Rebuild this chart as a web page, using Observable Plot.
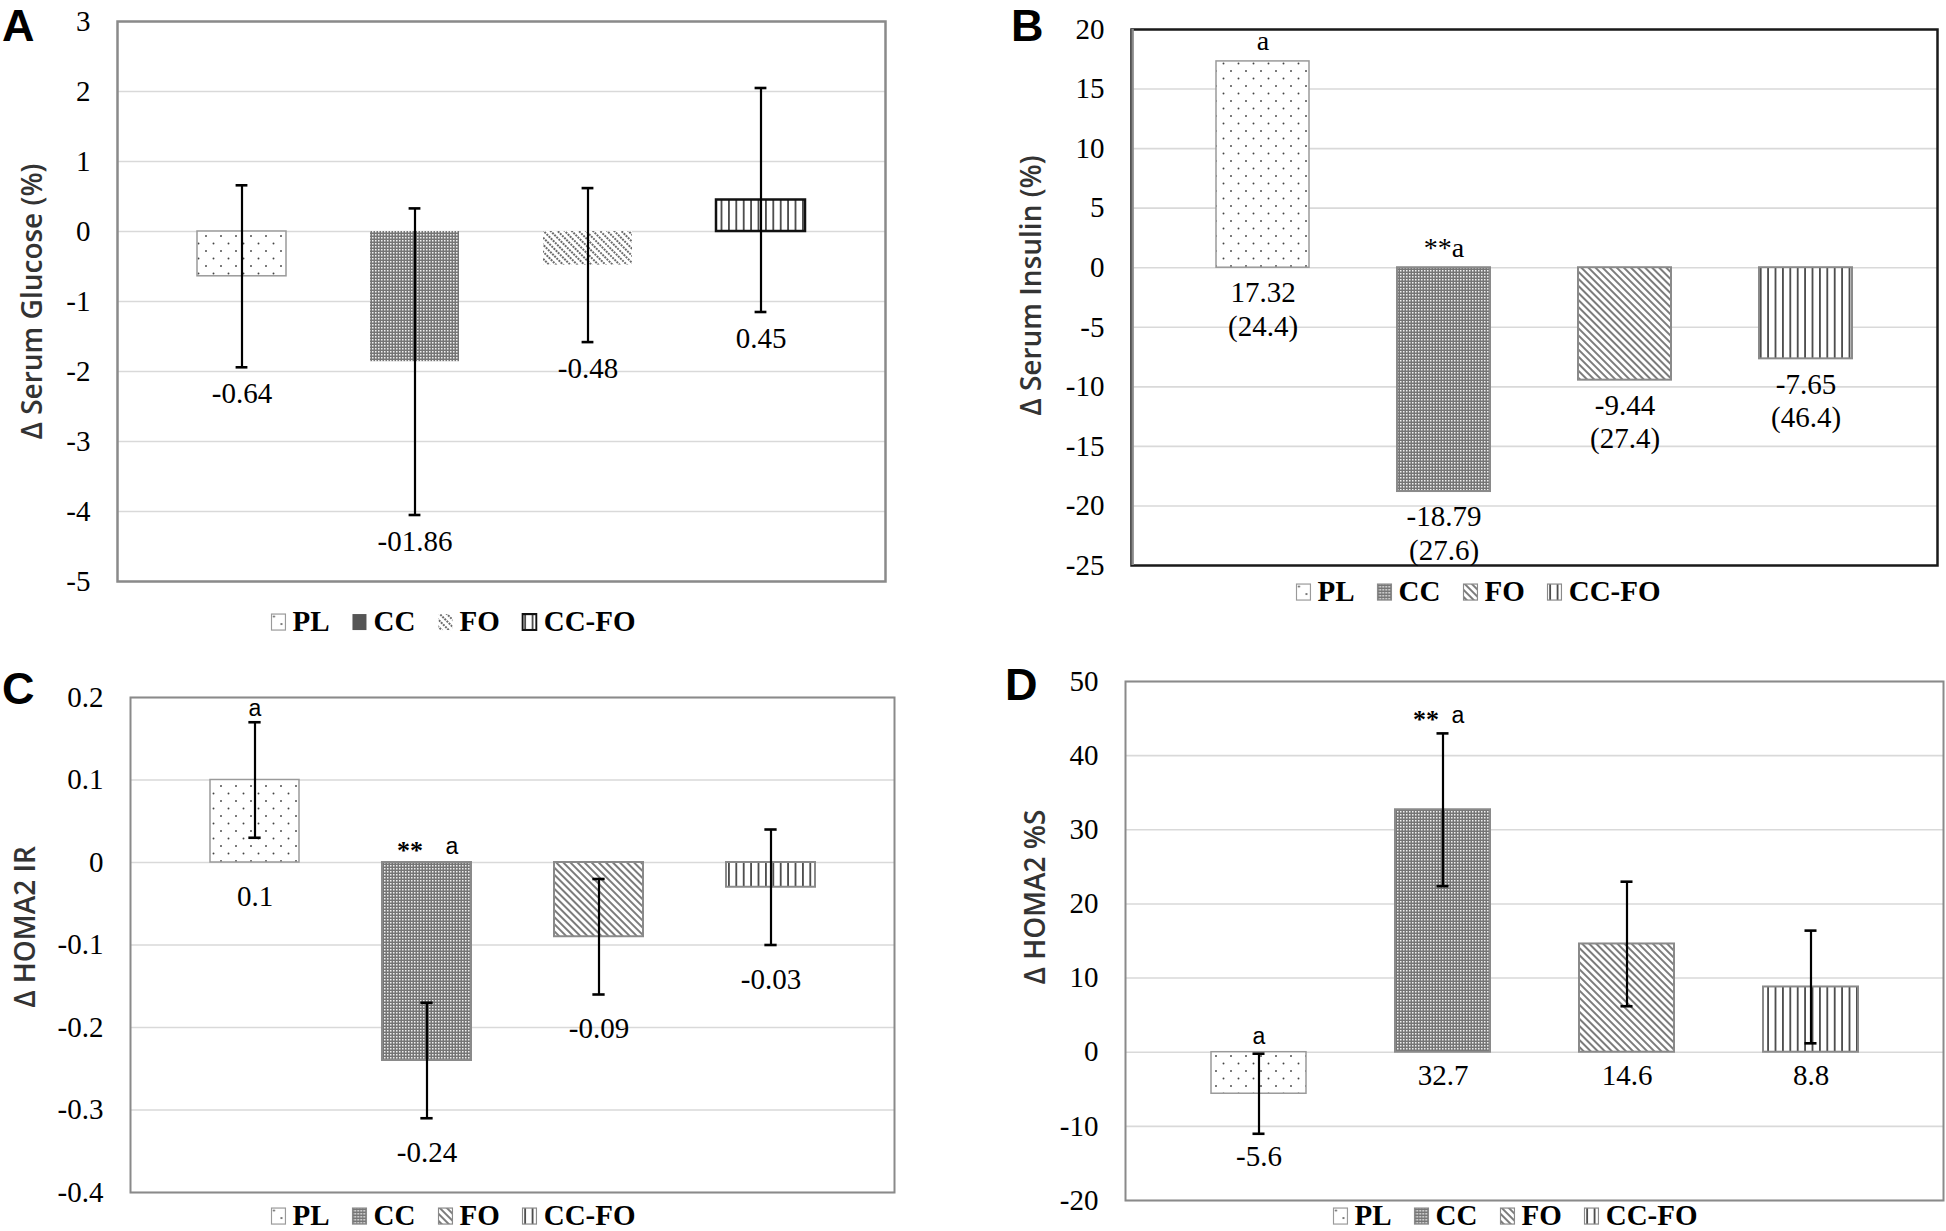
<!DOCTYPE html>
<html>
<head>
<meta charset="utf-8">
<script src="https://cdn.jsdelivr.net/npm/d3@7"></script>
<script src="https://cdn.jsdelivr.net/npm/@observablehq/plot@0.6"></script>
<style>
  body { margin: 0; background: #fff; }
  #root { position: relative; width: 1946px; height: 1231px; overflow: hidden; background: #fff; }
  .panel { position: absolute; }
  .letter { position: absolute; font-family: "Liberation Sans", Arial, sans-serif; font-weight: bold; font-size: 45px; line-height: 1; color: #000; }
  .legend { position: absolute; display: flex; align-items: center; transform: translate(-50%, -50%); white-space: nowrap;
            font-family: "Liberation Serif", "Times New Roman", serif; font-weight: bold; font-size: 29px; line-height: 1.1; color: #000; }
  .legend .item { display: flex; align-items: center; margin-right: 22px; }
  .legend .item:last-child { margin-right: 0; }
  .legend svg { margin-right: 6px; }
</style>
</head>
<body>
<svg width="0" height="0" style="position:absolute">
  <defs>
    <pattern id="pPL" patternUnits="userSpaceOnUse" width="15" height="15">
      <rect width="15" height="15" fill="#fff"/>
      <circle cx="3.5" cy="3.5" r="0.95" fill="#444"/>
      <circle cx="11" cy="11" r="0.95" fill="#444"/>
    </pattern>
    <pattern id="pCC" patternUnits="userSpaceOnUse" width="3" height="3">
      <rect width="3" height="3" fill="#757575"/>
      <rect width="1.5" height="1.5" fill="#f0f0f0"/>
    </pattern>
    <pattern id="pFO" patternUnits="userSpaceOnUse" width="5" height="5" patternTransform="rotate(-45)">
      <rect width="5" height="5" fill="#fff"/>
      <line x1="1" y1="0" x2="1" y2="5" stroke="#444" stroke-width="1.4"/>
    </pattern>
    <pattern id="pFOa" patternUnits="userSpaceOnUse" width="5" height="6" patternTransform="rotate(-45)">
      <rect width="5" height="6" fill="#fff"/>
      <line x1="1" y1="0" x2="1" y2="6" stroke="#3a3a3a" stroke-width="1.5" stroke-dasharray="2 1"/>
    </pattern>
    <pattern id="pCF" patternUnits="userSpaceOnUse" width="7.4" height="10">
      <rect width="7.4" height="10" fill="#fff"/>
      <line x1="3.7" y1="0" x2="3.7" y2="10" stroke="#333" stroke-width="1.6"/>
    </pattern>
  </defs>
</svg>
<div id="root"></div>
<script>
// ---------------- data ----------------
const groups = ["PL", "CC", "FO", "CC-FO"];

const glucose = [-0.64, -1.86, -0.48, 0.45];
const glucoseErr = [1.30, 2.19, 1.10, 1.60];
const glucoseText = ["-0.64", "-01.86", "-0.48", "0.45"];
const glucoseTicks = [-5, -4, -3, -2, -1, 0, 1, 2, 3];

const insulin = [17.32, -18.79, -9.44, -7.65];
const insulinText = ["17.32", "-18.79", "-9.44", "-7.65"];
const insulinSD = ["(24.4)", "(27.6)", "(27.4)", "(46.4)"];
const insulinTicks = [-25, -20, -15, -10, -5, 0, 5, 10, 15, 20];

const homaIR = [0.1, -0.24, -0.09, -0.03];
const homaIRErr = [0.07, 0.07, 0.07, 0.07];
const homaIRText = ["0.1", "-0.24", "-0.09", "-0.03"];
const homaIRTicks = [-0.4, -0.3, -0.2, -0.1, 0, 0.1, 0.2];

const homaS = [-5.6, 32.7, 14.6, 8.8];
const homaSErr = [5.4, 10.3, 8.4, 7.6];
const homaSText = ["-5.6", "32.7", "14.6", "8.8"];
const homaSTicks = [-20, -10, 0, 10, 20, 30, 40, 50];

const starMarks = ["", "**", "", ""];
const letterMarks = ["a", "a", "", ""];

// ---------------- styles ----------------
const SERIF = '"Liberation Serif", "Times New Roman", serif';
const SANS = '"Liberation Sans", Arial, sans-serif';
const stylesA = {
  "PL": ["url(#pPL)", "#9a9a9a", 1.5],
  "CC": ["url(#pCC)", "none", 0],
  "FO": ["url(#pFOa)", "none", 0],
  "CC-FO": ["url(#pCF)", "#111", 2.5]
};
const stylesO = {
  "PL": ["url(#pPL)", "#9a9a9a", 1.5],
  "CC": ["url(#pCC)", "#8a8a8a", 2],
  "FO": ["url(#pFO)", "#8a8a8a", 2],
  "CC-FO": ["url(#pCF)", "#8a8a8a", 2]
};
const legendA = {
  "PL": ["url(#pPL)", "#9a9a9a", 1.2],
  "CC": ["#555", "none", 0],
  "FO": ["url(#pFOa)", "none", 0],
  "CC-FO": ["url(#pCF)", "#111", 2.2]
};
const legendO = {
  "PL": ["url(#pPL)", "#9a9a9a", 1.2],
  "CC": ["url(#pCC)", "#8a8a8a", 1.2],
  "FO": ["url(#pFO)", "#8a8a8a", 1.2],
  "CC-FO": ["url(#pCF)", "#8a8a8a", 1.2]
};

const root = document.getElementById("root");

function makePanel(o) {
  const rows = groups.map((g, i) => ({
    g,
    v: o.values[i],
    e: o.errors ? o.errors[i] : 0,
    t: o.texts[i],
    star: o.stars ? o.stars[i] : "",
    letter: o.letters ? o.letters[i] : ""
  }));
  const fw = o.width - o.ml - o.mr;
  const pI = 0.485, pO = 0.46;
  const step = fw / (groups.length - pI + 2 * pO);
  const bw = step * (1 - pI);
  const cap = (bw - 12) / 2;
  const low = d => Math.min(0, d.v, d.v - d.e);
  const high = d => Math.max(0, d.v, d.v + d.e);

  const marks = [
    Plot.gridY(o.ticks, {stroke: "#d9d9d9", strokeOpacity: 1, strokeWidth: 1.6}),
    ...rows.map(r => Plot.barY([r], {
      x: "g", y: "v",
      fill: o.styles[r.g][0], stroke: o.styles[r.g][1], strokeWidth: o.styles[r.g][2]
    }))
  ];
  if (o.errors) {
    marks.push(Plot.ruleX(rows, {x: "g", y1: d => d.v - d.e, y2: d => d.v + d.e, stroke: "#000", strokeWidth: 2.2}));
    marks.push(Plot.tickY(rows, {x: "g", y: d => d.v - d.e, insetLeft: cap, insetRight: cap, stroke: "#000", strokeWidth: 2.6}));
    marks.push(Plot.tickY(rows, {x: "g", y: d => d.v + d.e, insetLeft: cap, insetRight: cap, stroke: "#000", strokeWidth: 2.6}));
  }
  marks.push(Plot.frame({stroke: o.frameColor, strokeWidth: o.frameWidth}));
  if (o.leftEdge) {
    // lighter left edge of the frame (frame left = first band centre minus outer padding and half band)
    marks.push(Plot.ruleX([groups[0]], {x: d => d, dx: -(pO * step + bw / 2), stroke: o.leftEdge, strokeWidth: o.frameWidth}));
  }
  marks.push(Plot.axisY(o.ticks, {
    tickSize: 0, tickPadding: 27, tickFormat: d => String(d), label: null,
    fontSize: 29, fontFamily: SERIF, fill: "#000"
  }));
  marks.push(Plot.text(rows, {
    x: "g", y: low, text: "t", dy: o.labelDy, lineAnchor: o.labelAnchor,
    fontSize: 29, fontFamily: SERIF, fill: "#000", lineHeight: 1.15
  }));
  if (o.annotations === "joined") {
    marks.push(Plot.text(rows, {
      x: "g", y: high, text: d => d.star + d.letter, dy: o.annDy,
      fontSize: 28, fontFamily: SERIF, fill: "#000"
    }));
  } else if (o.annotations === "split") {
    marks.push(Plot.text(rows.filter(d => d.star), {
      x: "g", y: high, text: "star", dy: o.annDy + 2, dx: o.starDx,
      fontSize: 26, fontFamily: SERIF, fontWeight: "bold", fill: "#000"
    }));
    marks.push(Plot.text(rows.filter(d => d.letter && d.star), {
      x: "g", y: high, text: "letter", dy: o.annDy - 2, dx: o.letterDx,
      fontSize: 23, fontFamily: SANS, fill: "#000"
    }));
    marks.push(Plot.text(rows.filter(d => d.letter && !d.star), {
      x: "g", y: high, text: "letter", dy: o.annDy,
      fontSize: 23, fontFamily: SANS, fill: "#000"
    }));
  }
  marks.push(Plot.text([o.title], {
    frameAnchor: "left", rotate: -90, dx: o.titleDx, dy: o.titleDy, text: d => d,
    textAnchor: "middle", lineAnchor: "middle",
    fontFamily: '"Open Sans", "Noto Sans", sans-serif', fontWeight: 600, fontSize: 28, fill: "#333"
  }));

  const svg = Plot.plot({
    width: o.width, height: o.height,
    marginLeft: o.ml, marginRight: o.mr, marginTop: o.mt, marginBottom: o.mb,
    x: {domain: groups, paddingInner: pI, paddingOuter: pO, axis: null},
    y: {domain: o.domain, axis: null},
    style: {fontFamily: SERIF, fontSize: "29px", color: "#000", background: "transparent", overflow: "visible"},
    marks
  });
  svg.classList.add("panel");
  svg.style.left = o.left + "px";
  svg.style.top = o.top + "px";
  root.appendChild(svg);

  // panel letter
  const L = document.createElement("div");
  L.className = "letter";
  L.textContent = o.letter;
  L.style.left = o.letterPos[0] + "px";
  L.style.top = o.letterPos[1] + "px";
  root.appendChild(L);

  // legend
  const lg = document.createElement("div");
  lg.className = "legend";
  lg.style.left = o.legendPos[0] + "px";
  lg.style.top = o.legendPos[1] + "px";
  groups.forEach(g => {
    const it = document.createElement("div");
    it.className = "item";
    const s = o.legendStyles[g];
    it.innerHTML = `<svg width="16" height="18" viewBox="0 0 16 18"><rect x="1" y="1" width="14" height="16" fill="${s[0]}" stroke="${s[1]}" stroke-width="${s[2]}"/></svg>`;
    const sp = document.createElement("span");
    sp.textContent = g;
    it.appendChild(sp);
    lg.appendChild(it);
  });
  root.appendChild(lg);
}

// Panel A
makePanel({
  left: 0, top: 0, width: 900, height: 600, ml: 117, mr: 15, mt: 21, mb: 19,
  domain: [-5, 3], ticks: glucoseTicks,
  values: glucose, errors: glucoseErr, texts: glucoseText,
  labelDy: 25, labelAnchor: "middle",
  styles: stylesA, legendStyles: legendA,
  frameColor: "#8a8a8a", frameWidth: 2.5,
  title: "Δ Serum Glucose (%)", titleDx: -84, titleDy: 0,
  letter: "A", letterPos: [2, 3], legendPos: [453, 622]
});

// Panel B
makePanel({
  left: 980, top: 0, width: 966, height: 590, ml: 151, mr: 9, mt: 29, mb: 25,
  domain: [-25, 20], ticks: insulinTicks,
  values: insulin, errors: null,
  texts: insulinText.map((t, i) => t + "\n" + insulinSD[i]),
  labelDy: 11, labelAnchor: "top",
  stars: starMarks, letters: letterMarks, annotations: "joined", annDy: -20,
  styles: stylesO, legendStyles: legendO,
  frameColor: "#1a1a1a", frameWidth: 2.5, leftEdge: "#8a8a8a",
  title: "Δ Serum Insulin (%)", titleDx: -99, titleDy: -12,
  letter: "B", letterPos: [1011, 3], legendPos: [1478, 592]
});

// Panel C
makePanel({
  left: 0, top: 640, width: 900, height: 575, ml: 130, mr: 6, mt: 57, mb: 23,
  domain: [-0.4, 0.2], ticks: homaIRTicks,
  values: homaIR, errors: homaIRErr, texts: homaIRText,
  labelDy: 33, labelAnchor: "middle",
  stars: starMarks, letters: letterMarks, annotations: "split", annDy: -14, starDx: -17, letterDx: 25,
  styles: stylesO, legendStyles: legendO,
  frameColor: "#8a8a8a", frameWidth: 2,
  title: "Δ HOMA2 IR", titleDx: -104, titleDy: -18,
  letter: "C", letterPos: [2, 666], legendPos: [453, 1216]
});

// Panel D
makePanel({
  left: 980, top: 640, width: 966, height: 580, ml: 145, mr: 3, mt: 41, mb: 20,
  domain: [-20, 50], ticks: homaSTicks,
  values: homaS, errors: homaSErr, texts: homaSText,
  labelDy: 22, labelAnchor: "middle",
  stars: starMarks, letters: letterMarks, annotations: "split", annDy: -16, starDx: -17, letterDx: 15,
  styles: stylesO, legendStyles: legendO,
  frameColor: "#8a8a8a", frameWidth: 2,
  title: "Δ HOMA2 %S", titleDx: -89, titleDy: -44,
  letter: "D", letterPos: [1005, 662], legendPos: [1515, 1216]
});
</script>
</body>
</html>
